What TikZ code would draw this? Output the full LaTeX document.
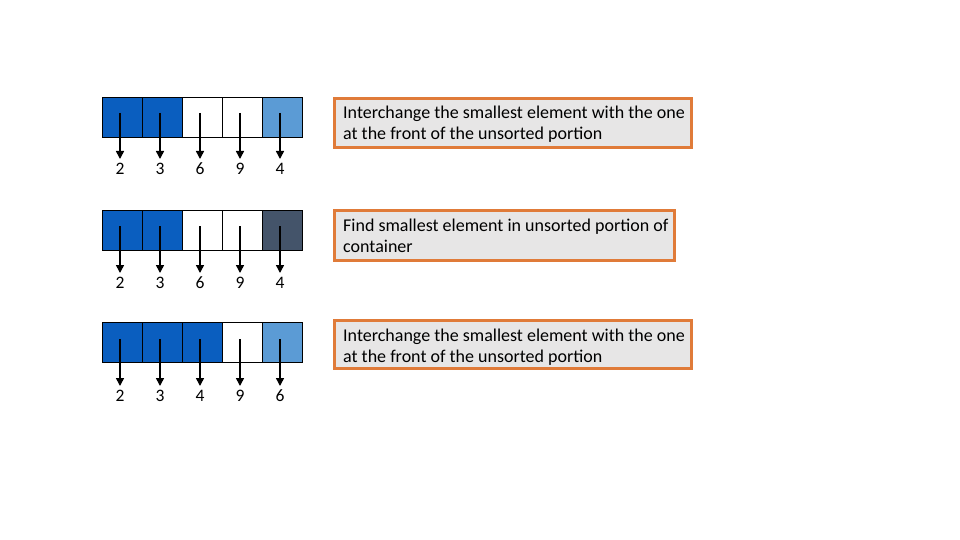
\documentclass[tikz,border=0pt]{standalone}
\usepackage{fontspec}
\setmainfont{Carlito}
\usetikzlibrary{arrows.meta}
\definecolor{dblue}{HTML}{0A5EBF}
\definecolor{lblue}{HTML}{5B9BD5}
\definecolor{dgray}{HTML}{44546A}
\definecolor{orng}{HTML}{E07B39}
\definecolor{boxfill}{HTML}{E7E6E6}
\tikzset{
  cell/.style={draw=black, line width=0.6pt, minimum width=40pt, minimum height=40pt, inner sep=0pt, outer sep=0pt, anchor=north west},
  ptr/.style={-{Triangle[length=8pt,width=8pt]}, line width=1.5pt},
  num/.style={font=\fontsize{17.5}{20}\selectfont, inner sep=0pt},
  notebox/.style={draw=orng, line width=3pt, fill=boxfill, anchor=north west, inner sep=0pt, outer sep=0pt},
  noteline/.style={anchor=base west, inner sep=0pt, font=\fontsize{18}{21}\selectfont}
}
\begin{document}
\begin{tikzpicture}[x=1pt,y=-1pt]
\useasboundingbox (0,0) rectangle (960,540);
% row 1
\foreach \i/\c/\v in {1/dblue/2,2/dblue/3,3/white/6,4/white/9,5/lblue/4}{
  \node[cell, fill=\c] (a\i) at ({102+40*(\i-1)},97) {};
  \coordinate (as\i) at ({120+40*(\i-1)},113);
  \coordinate (ae\i) at ({120+40*(\i-1)},159);
  \draw[ptr] (as\i) -- (ae\i);
  \node[num] (an\i) at ({120+40*(\i-1)},169) {\v};
}
% row 2
\foreach \i/\c/\v in {1/dblue/2,2/dblue/3,3/white/6,4/white/9,5/dgray/4}{
  \node[cell, fill=\c] (b\i) at ({102+40*(\i-1)},210) {};
  \coordinate (bs\i) at ({120+40*(\i-1)},226);
  \coordinate (be\i) at ({120+40*(\i-1)},273);
  \draw[ptr] (bs\i) -- (be\i);
  \node[num] (bn\i) at ({120+40*(\i-1)},283) {\v};
}
% row 3
\foreach \i/\c/\v in {1/dblue/2,2/dblue/3,3/dblue/4,4/white/9,5/lblue/6}{
  \node[cell, fill=\c] (c\i) at ({102+40*(\i-1)},322) {};
  \coordinate (cs\i) at ({120+40*(\i-1)},339);
  \coordinate (ce\i) at ({120+40*(\i-1)},386);
  \draw[ptr] (cs\i) -- (ce\i);
  \node[num] (cn\i) at ({120+40*(\i-1)},396) {\v};
}
% notes
\node[notebox, minimum width=357pt, minimum height=49pt] (n1) at (334.5,98.5) {};
\node[noteline] (n1a) at (343,119) {Interchange the smallest element with the one};
\node[noteline] (n1b) at (343,140) {at the front of the unsorted portion};
\node[notebox, minimum width=340pt, minimum height=50pt] (n2) at (334.5,210.5) {};
\node[noteline] (n2a) at (343,231) {Find smallest element in unsorted portion of};
\node[noteline] (n2b) at (343,252) {container};
\node[notebox, minimum width=357pt, minimum height=48pt] (n3) at (334.5,320.5) {};
\node[noteline] (n3a) at (343,341) {Interchange the smallest element with the one};
\node[noteline] (n3b) at (343,362) {at the front of the unsorted portion};
\end{tikzpicture}
\end{document}
